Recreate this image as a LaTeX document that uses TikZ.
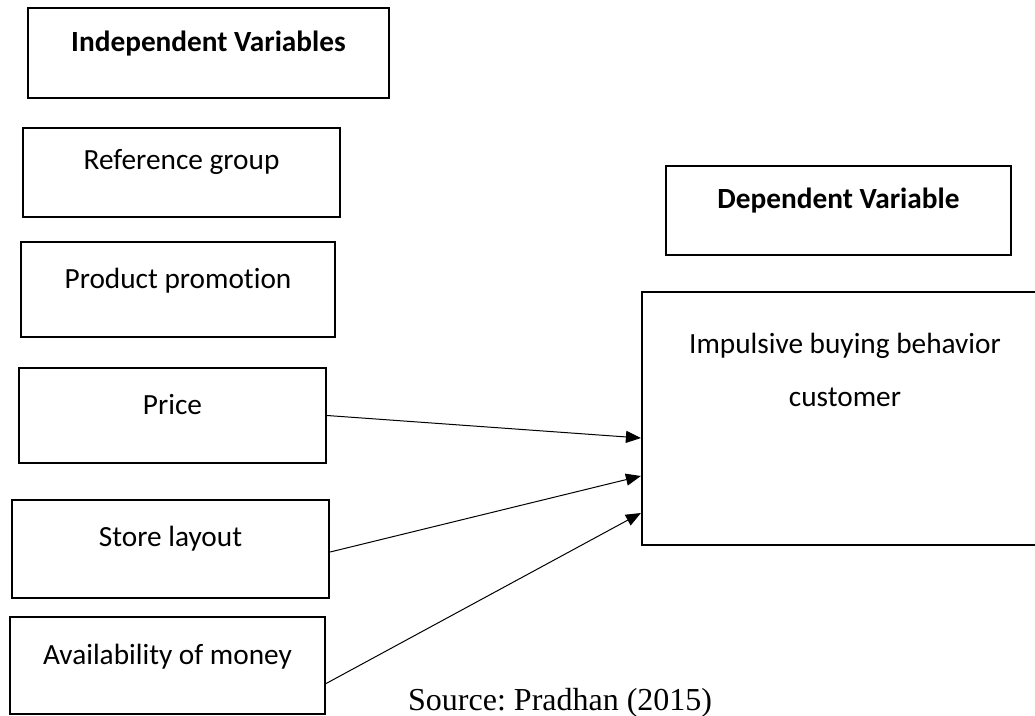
\documentclass[tikz,border=0pt]{standalone}
\usepackage{fontspec}
\setmainfont{Liberation Serif}
\newfontfamily\carlito[Ligatures=NoCommon]{Carlito}
\usetikzlibrary{arrows.meta, positioning, fit}
\tikzset{
  fw box/.style={
    rectangle, draw=black, line width=2.2pt, inner sep=0pt
  },
  fw text/.style={
    font=\carlito\fontsize{29.3}{34}\selectfont,
    inner sep=0pt, text height=20pt, text depth=7pt
  },
  fw head/.style={
    fw text, font=\carlito\bfseries\fontsize{29.3}{34}\selectfont
  },
  fw arrow/.style={
    -{Triangle[length=15pt, width=12pt]}, line width=1pt, draw=black
  },
  fw source/.style={
    font=\fontsize{32}{38}\selectfont, inner sep=0pt
  }
}

\begin{document}
\begin{tikzpicture}[x=1pt, y=-1pt]
  \useasboundingbox (0,0) rectangle (1035,715);

  % independent variables
  \node (indep) [fw box, fit={(28,8) (389,98)}] {};
  \node (refgroup) [fw box, fit={(23,128) (340,217)}] {};
  \node (promo) [fw box, fit={(21,242) (335,337)}] {};
  \node (price) [fw box, fit={(19,368) (326,463)}] {};
  \node (layout) [fw box, fit={(12,500) (329,598)}] {};
  \node (money) [fw box, fit={(10,617) (325,714)}] {};

  \node (indeptxt) [fw head, below=24pt of indep.north] {Independent Variables};
  \node (refgrouptxt) [fw text, below=22pt of refgroup.north] {Reference group};
  \node (promotxt) [fw text, below=27pt of promo.north] {Product promotion};
  \node (pricetxt) [fw text, below=27pt of price.north] {Price};
  \node (layouttxt) [fw text, below=27pt of layout.north] {Store layout};
  \node (moneytxt) [fw text, below=28pt of money.north] {Availability of money};

  % dependent variable
  \node (dep) [fw box, fit={(666,166) (1011,255)}] {};
  \node (impulse) [fw box, fit={(642,292) (1048,545)}] {};

  \node (deptxt) [fw head, below=23pt of dep.north] {Dependent Variable};
  \node (impulsetxt) [font=\carlito\fontsize{29.3}{53}\selectfont, inner sep=0pt,
    align=center, below=42pt of impulse.north] {Impulsive buying behavior\\customer};

  \draw [fw arrow] (price.east) -- ([yshift=-19.5pt]impulse.west);
  \draw [fw arrow] ([yshift=-3pt]layout.east) -- ([yshift=-57.5pt]impulse.west);
  \draw [fw arrow] ([yshift=-18pt]money.east) -- ([yshift=-94.5pt]impulse.west);

  \node (source) [fw source, anchor=base west] at (408,710) {Source:\ Pradhan (2015)};
\end{tikzpicture}
\end{document}
